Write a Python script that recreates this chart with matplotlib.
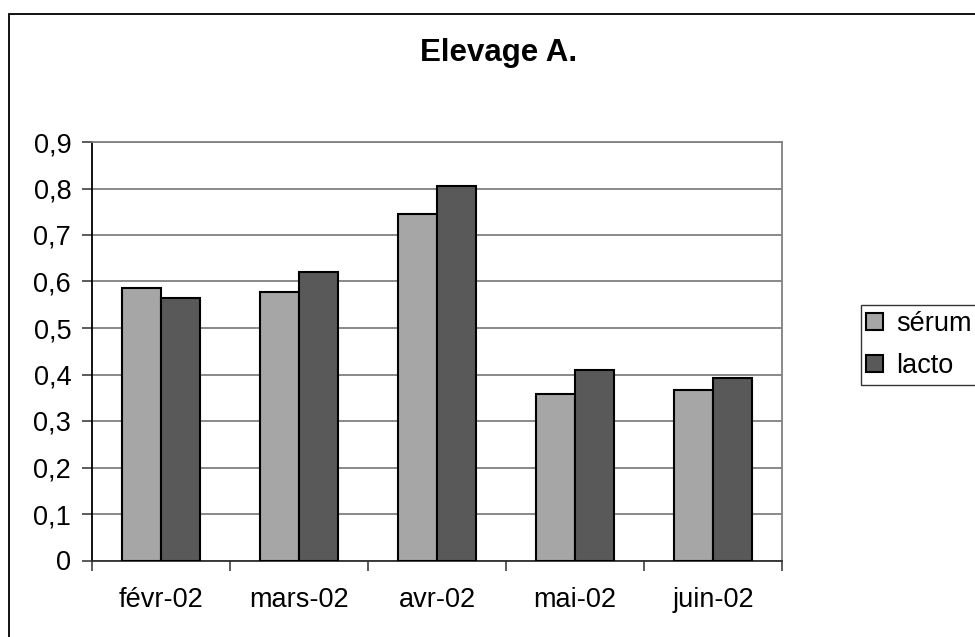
import matplotlib
matplotlib.use("Agg")
import matplotlib.pyplot as plt
from matplotlib.patches import Rectangle
from matplotlib.ticker import FuncFormatter, FixedLocator
import numpy as np

plt.rcParams['font.family'] = ['Liberation Sans', 'DejaVu Sans']

categories = ["févr-02", "mars-02", "avr-02", "mai-02", "juin-02"]
serum = [0.587, 0.578, 0.746, 0.358, 0.367]
lacto = [0.565, 0.621, 0.806, 0.410, 0.393]
series_names = ["sérum", "lacto"]
title = "Elevage A."

W, H = 975, 637
fig = plt.figure(figsize=(W / 100, H / 100), dpi=100)
fig.patch.set_facecolor("white")

# outer chart border
fig.patches.append(Rectangle((8.5 / W, -0.05), 1.2, 1 - 14 / H + 0.05,
                             transform=fig.transFigure, fill=False,
                             edgecolor="black", linewidth=1.3, zorder=0))

ax = fig.add_axes([92 / W, 1 - 560.5 / H, (782 - 92) / W, (560.5 - 142) / H])

x = np.arange(len(categories))
w = 0.286
ax.bar(x - w / 2, serum, width=w, color="#A6A6A6", edgecolor="black",
       linewidth=1.5, label=series_names[0], zorder=3)
ax.bar(x + w / 2, lacto, width=w, color="#595959", edgecolor="black",
       linewidth=1.5, label=series_names[1], zorder=3)

ax.set_xlim(-0.5, len(categories) - 0.5)
ax.set_ylim(0, 0.9)
ax.set_yticks(np.arange(0, 0.91, 0.1))
ax.yaxis.set_major_formatter(FuncFormatter(
    lambda v, p: "0" if abs(v) < 1e-9 else f"{v:.1f}".replace(".", ",")))
ax.grid(axis="y", color="#808080", linewidth=1.3, zorder=1)
ax.set_axisbelow(True)

ax.set_xticks(x)
ax.set_xticklabels(categories)
ax.xaxis.set_minor_locator(FixedLocator(np.arange(-0.5, len(categories), 1.0)))
ax.tick_params(axis="x", which="major", length=0, pad=19, labelsize=19.5)
ax.tick_params(axis="x", which="minor", length=7, width=1.2, color="#404040",
               direction="out")
ax.tick_params(axis="y", length=7, width=1.2, direction="out", pad=8,
               labelsize=19.5, color="#404040")

for s in ["top", "right"]:
    ax.spines[s].set_color("#808080")
    ax.spines[s].set_linewidth(1.3)
ax.spines["left"].set_color("black")
ax.spines["left"].set_linewidth(1.3)
ax.spines["bottom"].set_color("#303030")
ax.spines["bottom"].set_linewidth(1.3)

fig.text(499 / W, 1 - 53 / H, title, ha="center", va="center",
         fontsize=22.5, fontweight="bold")

leg = fig.legend(loc="upper left", bbox_to_anchor=(861 / W, 1 - 305.5 / H),
                 fontsize=19.5, frameon=True, fancybox=False,
                 handlelength=0.6, handleheight=0.6, handletextpad=0.5,
                 borderpad=0.2, labelspacing=0.6, borderaxespad=0)
leg.get_frame().set_edgecolor("black")
leg.get_frame().set_linewidth(1.0)

fig.savefig("out.png", dpi=100)
